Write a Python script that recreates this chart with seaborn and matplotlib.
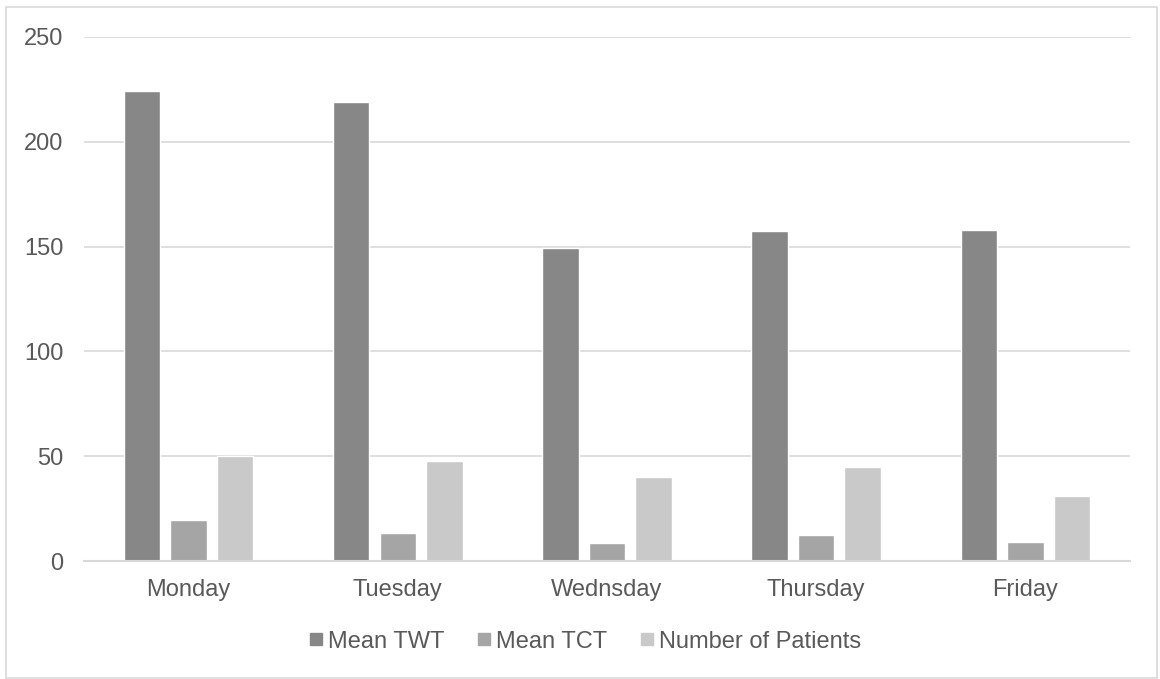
import matplotlib
matplotlib.use("Agg")
import matplotlib.pyplot as plt
from matplotlib.lines import Line2D
from matplotlib.patches import Rectangle
import seaborn as sns
import pandas as pd

days = ["Monday", "Tuesday", "Wednsday", "Thursday", "Friday"]
series_names = ["Mean TWT", "Mean TCT", "Number of Patients"]
mean_twt = [224, 219, 149.5, 157.5, 158]
mean_tct = [19.5, 13.5, 8.5, 12.5, 9]
patients = [50, 48, 40, 45, 31]
colors = ["#878787", "#a5a5a5", "#c9c9c9"]
y_ticks = [0, 50, 100, 150, 200, 250]

df = pd.DataFrame({
    "day": days * 3,
    "series": [s for s in series_names for _ in days],
    "value": mean_twt + mean_tct + patients,
})

sns.set_theme(style="white")
plt.rcParams["font.family"] = ["Liberation Sans", "DejaVu Sans"]
text_color = "#595959"
font_size = 17

fig = plt.figure(figsize=(11.6, 6.79), dpi=100)
ax = fig.add_axes([0.0724, 0.1733, 0.9017, 0.7727])

sns.barplot(data=df, x="day", y="value", hue="series", order=days,
            hue_order=series_names, palette=colors, width=0.6675, gap=0.215,
            saturation=1, ax=ax, legend=False, zorder=3)

ax.set_ylim(0, 250)
ax.set_xlim(-0.5, len(days) - 0.5)
ax.set_yticks(y_ticks)
ax.yaxis.grid(True, color="#d9d9d9", linewidth=1.2, zorder=0)
ax.set_axisbelow(True)
for side in ["top", "right", "left"]:
    ax.spines[side].set_visible(False)
ax.spines["bottom"].set_color("#d9d9d9")
ax.spines["bottom"].set_linewidth(1.5)
ax.spines["bottom"].set_zorder(4)
ax.tick_params(axis="both", length=0, labelsize=font_size, labelcolor=text_color)
ax.tick_params(axis="y", pad=15)
ax.tick_params(axis="x", pad=12.5)
ax.set_xlabel("")
ax.set_ylabel("")

handles = [Line2D([], [], marker="s", linestyle="none", markersize=8.6,
                  markerfacecolor=c, markeredgecolor=c) for c in colors]
fig.legend(handles, series_names, loc="center", bbox_to_anchor=(0.5047, 0.055),
           ncol=3, frameon=False, fontsize=font_size, labelcolor=text_color,
           handlelength=0.5, handletextpad=0.25, columnspacing=1.45,
           borderpad=0, borderaxespad=0)

fig.patches.append(Rectangle((6 / 1160, 1 / 679), 1151 / 1160, 671 / 679,
                             transform=fig.transFigure, fill=False,
                             edgecolor="#d9d9d9", linewidth=1.2))

fig.savefig("out.png", dpi=100, facecolor="white")
